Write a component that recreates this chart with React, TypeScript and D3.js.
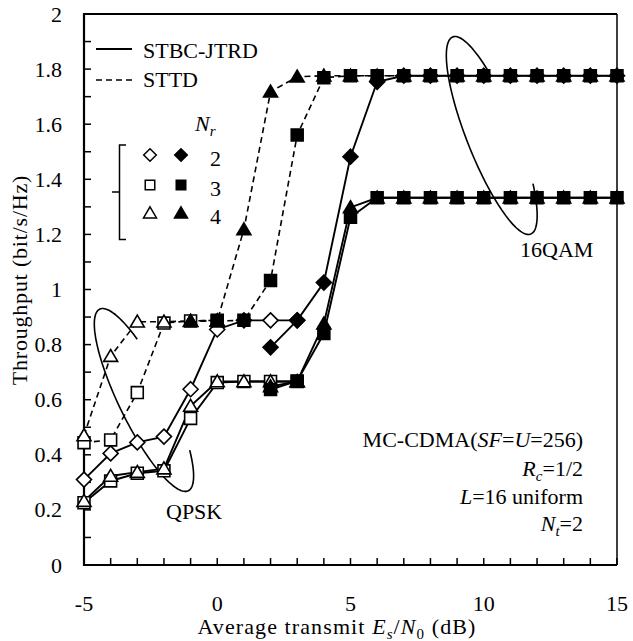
import React from "react";
import * as d3 from "d3";

const FONT = "'Liberation Serif', 'Times New Roman', serif";
const W = 633;
const H = 641;

// SNR grids (dB)
const snrQpskJtrd = [-5, -4, -3, -2, -1, 0, 1, 2, 3];
const snrQpskSttd = [-5, -4, -3, -2, -1, 0];
const snrQamJtrd = [2, 3, 4, 5, 6, 7, 8, 9, 10, 11, 12, 13, 14, 15];
const snrQamSttd3 = [0, 1, 2, 3, 4, 5, 6, 7, 8, 9, 10, 11, 12, 13, 14, 15];
const snrQamSttd4 = [-1, 0, 1, 2, 3, 4, 5, 6, 7, 8, 9, 10, 11, 12, 13, 14, 15];

// throughput (bit/s/Hz), QPSK
const qpskJtrd2 = [0.31, 0.405, 0.445, 0.466, 0.638, 0.855, 0.888, 0.888, 0.888];
const qpskJtrd3 = [0.226, 0.305, 0.333, 0.342, 0.532, 0.662, 0.666, 0.666, 0.666];
const qpskJtrd4 = [0.232, 0.323, 0.337, 0.35, 0.577, 0.666, 0.666, 0.666, 0.666];
const qpskSttd3 = [0.444, 0.454, 0.626, 0.878, 0.886, 0.888];
const qpskSttd4 = [0.47, 0.758, 0.883, 0.883, 0.886, 0.888];

// throughput (bit/s/Hz), 16QAM
const qamJtrd2 = [0.79, 0.888, 1.025, 1.482, 1.754, 1.776, 1.776, 1.776, 1.776, 1.776, 1.776, 1.776, 1.776, 1.776];
const qamJtrd3 = [0.637, 0.668, 0.84, 1.262, 1.333, 1.333, 1.333, 1.333, 1.333, 1.333, 1.333, 1.333, 1.333, 1.333];
const qamJtrd4 = [0.648, 0.666, 0.876, 1.298, 1.333, 1.333, 1.333, 1.333, 1.333, 1.333, 1.333, 1.333, 1.333, 1.333];
const qamSttd3 = [0.886, 0.888, 1.033, 1.561, 1.769, 1.776, 1.776, 1.776, 1.776, 1.776, 1.776, 1.776, 1.776, 1.776, 1.776, 1.776];
const qamSttd4 = [0.885, 0.886, 1.218, 1.718, 1.772, 1.776, 1.776, 1.776, 1.776, 1.776, 1.776, 1.776, 1.776, 1.776, 1.776, 1.776, 1.776];

const xTicks = [-5, 0, 5, 10, 15];
const yTicks = [0, 0.2, 0.4, 0.6, 0.8, 1, 1.2, 1.4, 1.6, 1.8, 2];
const legendRows = ["2", "3", "4"];

type Marker = "diamond" | "square" | "triangle";
type Series = { x: number[]; y: number[]; dashed: boolean; marker: Marker; filled: boolean };

const series: Series[] = [
  { x: snrQpskJtrd, y: qpskJtrd2, dashed: false, marker: "diamond", filled: false },
  { x: snrQpskJtrd, y: qpskJtrd3, dashed: false, marker: "square", filled: false },
  { x: snrQpskJtrd, y: qpskJtrd4, dashed: false, marker: "triangle", filled: false },
  { x: snrQpskSttd, y: qpskSttd3, dashed: true, marker: "square", filled: false },
  { x: snrQpskSttd, y: qpskSttd4, dashed: true, marker: "triangle", filled: false },
  { x: snrQamJtrd, y: qamJtrd2, dashed: false, marker: "diamond", filled: true },
  { x: snrQamJtrd, y: qamJtrd3, dashed: false, marker: "square", filled: true },
  { x: snrQamJtrd, y: qamJtrd4, dashed: false, marker: "triangle", filled: true },
  { x: snrQamSttd3, y: qamSttd3, dashed: true, marker: "square", filled: true },
  { x: snrQamSttd4, y: qamSttd4, dashed: true, marker: "triangle", filled: true },
];

const x = d3.scaleLinear().domain([-5, 15]).range([84, 617]);
const y = d3.scaleLinear().domain([0, 2]).range([565, 14]);

function markerPath(m: Marker, s: number) {
  if (m === "diamond") return `M0,${-s}L${s},0L0,${s}L${-s},0Z`;
  if (m === "square") return `M${-s * 0.85},${-s * 0.85}H${s * 0.85}V${s * 0.85}H${-s * 0.85}Z`;
  return `M0,${-s * 0.95}L${s},${s * 0.75}L${-s},${s * 0.75}Z`;
}

// open ellipse used as a group marker (pixel-space axes, gap on the right side)
function ellipsePath(cx: number, cy: number, a: number, b: number, deg: number, t0: number, t1: number) {
  const th = (deg * Math.PI) / 180;
  const u = [Math.cos(th), Math.sin(th)];
  const v = [-Math.sin(th), Math.cos(th)];
  const pts: [number, number][] = d3.range(0, 121).map((i) => {
    const t = t0 + ((t1 - t0) * i) / 120;
    return [cx + a * Math.cos(t) * u[0] + b * Math.sin(t) * v[0], cy + a * Math.cos(t) * u[1] + b * Math.sin(t) * v[1]];
  });
  return d3.line()(pts) as string;
}

export default function App() {
  const line = d3
    .line<[number, number]>()
    .x((d) => x(d[0]))
    .y((d) => y(d[1]));

  const minorX = d3.range(-5, 16, 1);
  const minorY = d3.range(0, 21).map((i) => i / 10);

  return (
    <svg width={W} height={H} style={{ position: "absolute", left: 0, top: 0, background: "#fff", fontFamily: FONT }}>
      <rect width={W} height={H} fill="#fff" />
      {/* frame */}
      <line x1={x(-5)} x2={x(15)} y1={y(2)} y2={y(2)} stroke="#000" strokeWidth={2} />
      <line x1={x(15)} x2={x(15)} y1={y(2)} y2={y(0)} stroke="#000" strokeWidth={1.5} />
      {minorX.map((t) => (
        <line key={"xt" + t} x1={x(t)} x2={x(t)} y1={y(0)} y2={y(0) - 7} stroke="#000" strokeWidth={1.5} />
      ))}
      {minorY.map((t) => (
        <line key={"yt" + t} x1={x(-5)} x2={x(-5) + 7} y1={y(t)} y2={y(t)} stroke="#000" strokeWidth={1.5} />
      ))}
      <line x1={x(-5)} x2={x(-5)} y1={y(2) - 1} y2={y(0) + 1} stroke="#000" strokeWidth={2.2} />
      <line x1={x(-5) - 1} x2={x(15)} y1={y(0)} y2={y(0)} stroke="#000" strokeWidth={2.2} />

      {/* tick labels */}
      {xTicks.map((t) => (
        <text key={"xl" + t} x={x(t)} y={611} fontSize={22} textAnchor="middle">{t}</text>
      ))}
      {yTicks.map((t) => (
        <text key={"yl" + t} x={62} y={y(t) + 7.5} fontSize={22} textAnchor="end">{String(+t.toFixed(1))}</text>
      ))}

      {/* axis titles */}
      <text x={337} y={634} fontSize={22} textAnchor="middle" letterSpacing={1.1}>
        <tspan>Average transmit </tspan>
        <tspan fontStyle="italic">E</tspan>
        <tspan fontSize={15} dy={5} fontStyle="italic">s</tspan>
        <tspan dy={-5}>/</tspan>
        <tspan fontStyle="italic">N</tspan>
        <tspan fontSize={15} dy={5}>0</tspan>
        <tspan dy={-5}> (dB)</tspan>
      </text>
      <text transform="translate(27,280) rotate(-90)" fontSize={22} textAnchor="middle" letterSpacing={0.8}>
        Throughput (bit/s/Hz)
      </text>

      {/* ellipses */}
      <path d={ellipsePath(x(-2.75), y(0.599), 101, 25, 64, -0.87, 4.107)} fill="none" stroke="#000" strokeWidth={1.6} />
      <path d={ellipsePath(x(10.3), y(1.559), 106, 25, 68.4, -0.97, 4.115)} fill="none" stroke="#000" strokeWidth={1.6} />

      {/* lines */}
      {series.map((s, i) => (
        <path
          key={"l" + i}
          d={line(s.x.map((v, j) => [v, s.y[j]] as [number, number])) as string}
          fill="none"
          stroke="#000"
          strokeWidth={s.dashed ? 1.6 : 1.9}
          strokeDasharray={s.dashed ? "6,4" : undefined}
        />
      ))}
      {/* markers */}
      {series.map((s, i) =>
        s.x.map((v, j) => (
          <path
            key={"m" + i + "-" + j}
            transform={`translate(${x(v)},${y(s.y[j])})`}
            d={markerPath(s.marker, s.marker === "diamond" ? 7.5 : 7)}
            fill={s.filled ? "#000" : "#fff"}
            stroke="#000"
            strokeWidth={1.6}
          />
        ))
      )}

      {/* legend */}
      <line x1={96} x2={132} y1={49} y2={49} stroke="#000" strokeWidth={1.9} />
      <text x={143} y={58} fontSize={22}>STBC-JTRD</text>
      <line x1={96} x2={132} y1={80} y2={80} stroke="#000" strokeWidth={1.6} strokeDasharray="6,4" />
      <text x={143} y={87} fontSize={22}>STTD</text>
      <text x={195} y={131} fontSize={22}>
        <tspan fontStyle="italic">N</tspan>
        <tspan fontSize={15} dy={5} fontStyle="italic">r</tspan>
      </text>
      <path d="M126,145H119.5V239.5H126M119.5,192H112" fill="none" stroke="#000" strokeWidth={1.5} />
      {legendRows.map((r, i) => {
        const m: Marker = i === 0 ? "diamond" : i === 1 ? "square" : "triangle";
        const cy = [155, 185, 213][i];
        const sz = m === "diamond" ? 6.3 : m === "square" ? 5.6 : 6.5;
        return (
          <g key={"lg" + r}>
            <path transform={`translate(150,${cy})`} d={markerPath(m, sz)} fill="#fff" stroke="#000" strokeWidth={1.5} />
            <path transform={`translate(181,${cy})`} d={markerPath(m, sz)} fill="#000" stroke="#000" strokeWidth={1.5} />
            <text x={210} y={cy + 11} fontSize={22}>{r}</text>
          </g>
        );
      })}

      {/* annotations */}
      <text x={520} y={257} fontSize={22}>16QAM</text>
      <text x={166} y={519} fontSize={22}>QPSK</text>
      <g fontSize={22} textAnchor="end">
        <text x={583} y={447}>
          <tspan>MC-CDMA(</tspan>
          <tspan fontStyle="italic">SF</tspan>
          <tspan>=</tspan>
          <tspan fontStyle="italic">U</tspan>
          <tspan>=256)</tspan>
        </text>
        <text x={583} y={476}>
          <tspan fontStyle="italic">R</tspan>
          <tspan fontSize={15} dy={5} fontStyle="italic">c</tspan>
          <tspan dy={-5}>=1/2</tspan>
        </text>
        <text x={583} y={504}>
          <tspan fontStyle="italic">L</tspan>
          <tspan>=16 uniform</tspan>
        </text>
        <text x={583} y={531}>
          <tspan fontStyle="italic">N</tspan>
          <tspan fontSize={15} dy={5} fontStyle="italic">t</tspan>
          <tspan dy={-5}>=2</tspan>
        </text>
      </g>
    </svg>
  );
}
